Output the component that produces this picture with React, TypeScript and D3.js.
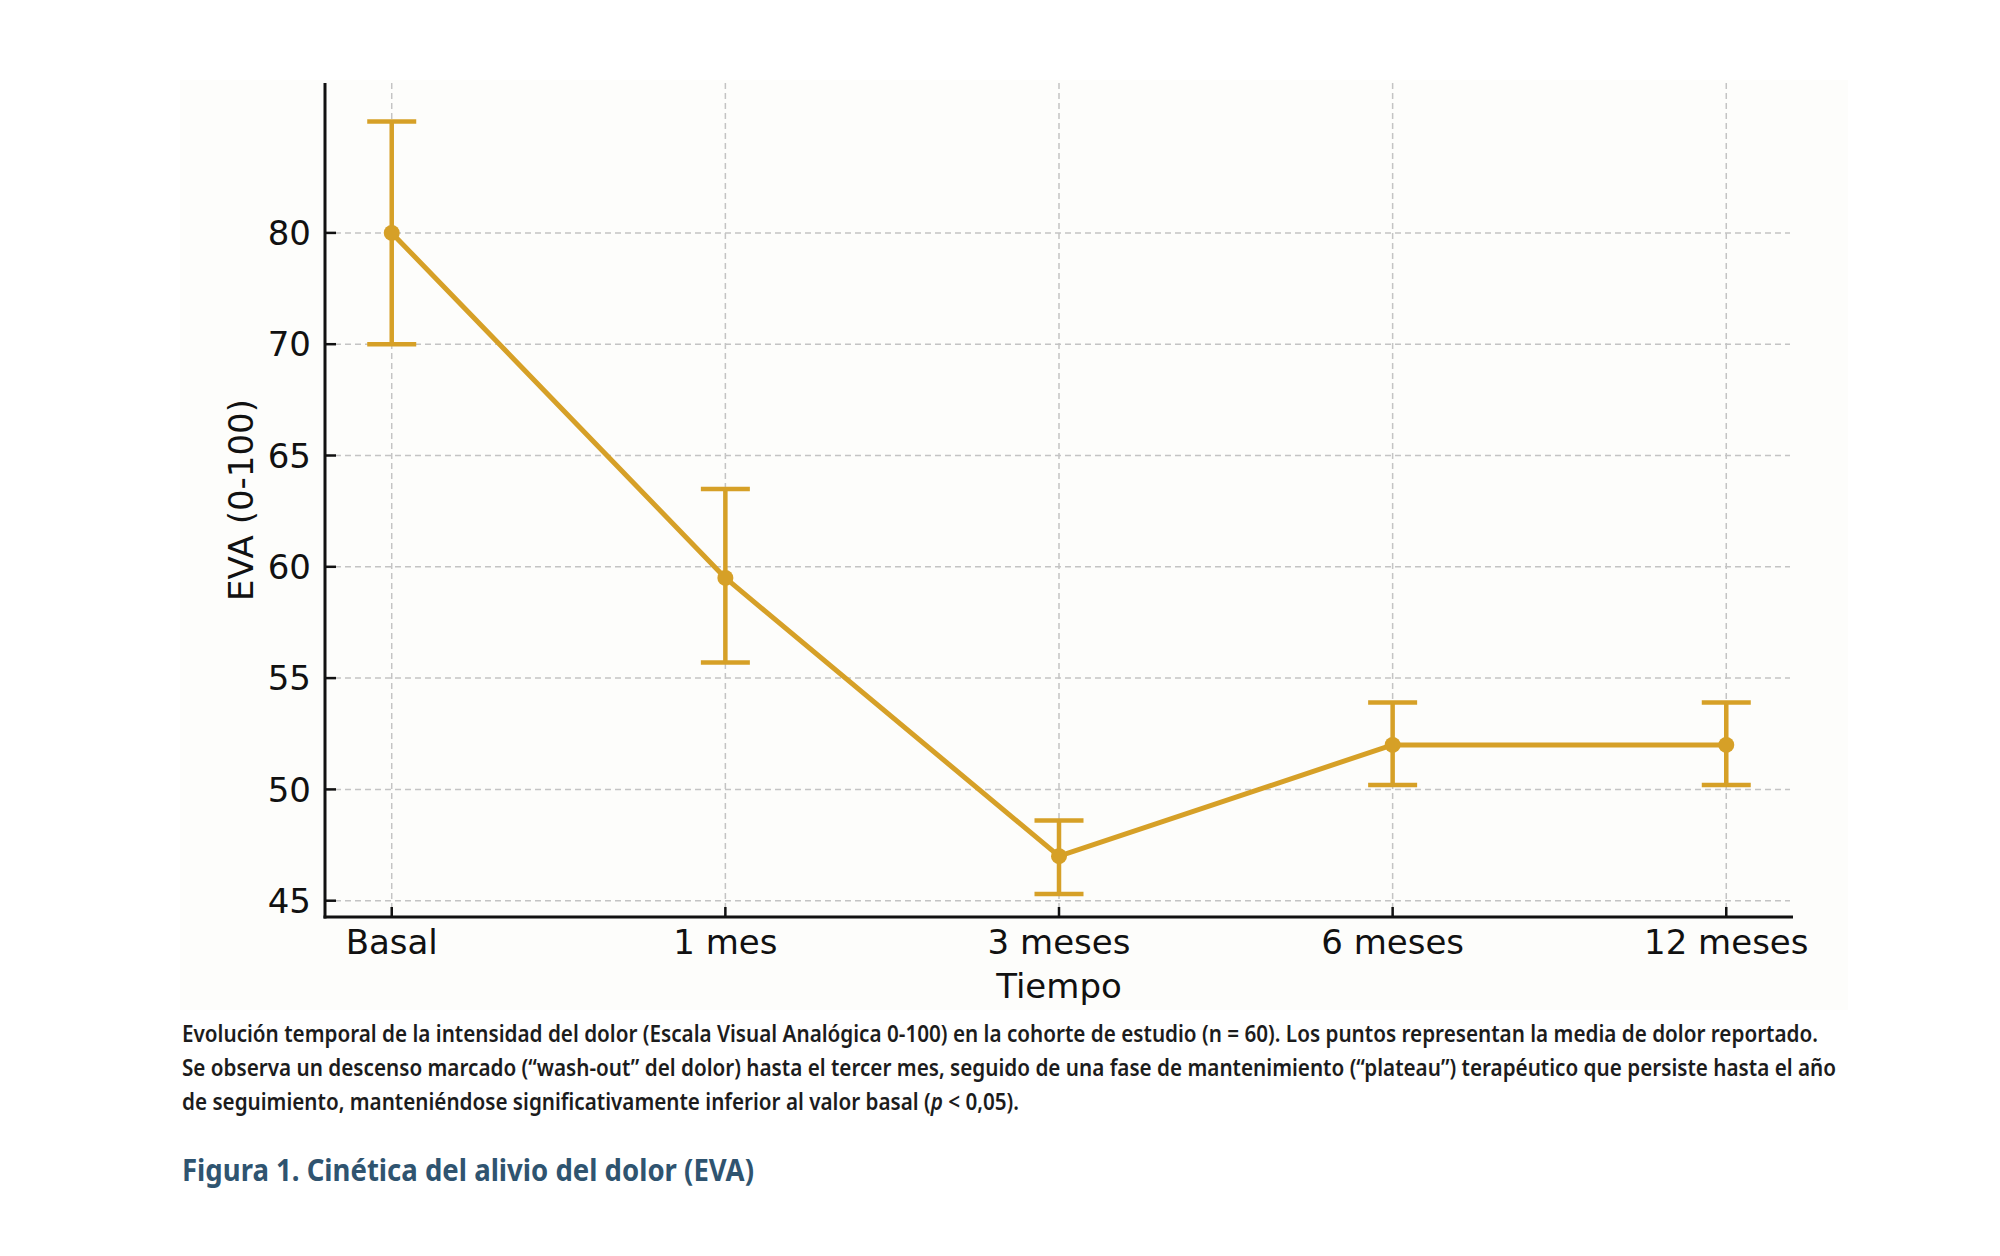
import React from 'react';
import * as d3 from 'd3';

const categories = ['Basal', '1 mes', '3 meses', '6 meses', '12 meses'];
const means = [80, 59.5, 47, 52, 52];
const lower = [70, 55.7, 45.3, 50.2, 50.2];
const upper = [90, 63.5, 48.6, 53.9, 53.9];
const yTicks = [45, 50, 55, 60, 65, 70, 80];

const captionLines = [
  'Evolución temporal de la intensidad del dolor (Escala Visual Analógica 0-100) en la cohorte de estudio (n = 60). Los puntos representan la media de dolor reportado.',
  'Se observa un descenso marcado (“wash-out” del dolor) hasta el tercer mes, seguido de una fase de mantenimiento (“plateau”) terapéutico que persiste hasta el año',
];
const captionLast = ['de seguimiento, manteniéndose significativamente inferior al valor basal (', 'p', ' < 0,05).'];
const title = 'Figura 1. Cinética del alivio del dolor (EVA)';

const W = 2000;
const H = 1256;
const left = 325;
const right = 1793;
const top = 83;
const bottom = 917;
const step = 111.3; // pixels between adjacent y ticks
const y45 = 900.7;

const COLOR = '#d6a027';
const axisFont = "'DejaVu Sans', sans-serif";

const App: React.FC = () => {
  const x = d3.scalePoint<string>().domain(categories).range([left, right]).padding(0.2);
  // the axis places 80 one tick step above 70, so the scale is piecewise
  const y = d3.scaleLinear().domain([45, 70, 80]).range([y45, y45 - 5 * step, y45 - 6 * step]);

  const line = d3.line<number>()
    .x((_, i) => x(categories[i]) as number)
    .y((d) => y(d));

  const cap = 24.5;

  return (
    <svg width={W} height={H} style={{ position: 'absolute', left: 0, top: 0, background: '#fff' }}>
      <rect x={180} y={80} width={1668} height={930} fill="#fdfdfb" />

      {/* grid */}
      <g stroke="#c4c4c4" strokeWidth={1.5} strokeDasharray="6,4">
        {yTicks.map((t) => (
          <line key={'h' + t} x1={left} x2={right - 3} y1={y(t)} y2={y(t)} />
        ))}
        {categories.map((c) => (
          <line key={'v' + c} x1={x(c)} x2={x(c)} y1={top} y2={bottom} />
        ))}
      </g>

      {/* spines */}
      <g stroke="#111" strokeWidth={3} fill="none">
        <line x1={left} x2={left} y1={top} y2={bottom + 1.5} />
        <line x1={left - 1.5} x2={right} y1={bottom} y2={bottom} />
      </g>

      {/* ticks */}
      <g stroke="#111" strokeWidth={2.5}>
        {yTicks.map((t) => (
          <line key={'yt' + t} x1={left} x2={left + 11} y1={y(t)} y2={y(t)} />
        ))}
        {categories.map((c) => (
          <line key={'xt' + c} x1={x(c)} x2={x(c)} y1={bottom} y2={bottom - 10} />
        ))}
      </g>

      <g fontFamily={axisFont} fontSize={34} fill="#111">
        {yTicks.map((t) => (
          <text key={'yl' + t} x={left - 14} y={y(t)} dy="0.36em" textAnchor="end">{t}</text>
        ))}
        {categories.map((c) => (
          <text key={'xl' + c} x={x(c)} y={954} textAnchor="middle">{c}</text>
        ))}
        <text x={(left + right) / 2} y={998} textAnchor="middle">Tiempo</text>
        <text transform={`translate(253,${(top + bottom) / 2}) rotate(-90)`} textAnchor="middle">EVA (0-100)</text>
      </g>

      {/* error bars */}
      <g stroke={COLOR} strokeWidth={4.5}>
        {categories.map((c, i) => {
          const cx = x(c) as number;
          return (
            <g key={'eb' + c}>
              <line x1={cx} x2={cx} y1={y(lower[i])} y2={y(upper[i])} />
              <line x1={cx - cap} x2={cx + cap} y1={y(lower[i])} y2={y(lower[i])} />
              <line x1={cx - cap} x2={cx + cap} y1={y(upper[i])} y2={y(upper[i])} />
            </g>
          );
        })}
      </g>

      <path d={line(means) || ''} fill="none" stroke={COLOR} strokeWidth={5} strokeLinejoin="round" />
      {means.map((m, i) => (
        <circle key={'pt' + i} cx={x(categories[i])} cy={y(m)} r={8} fill={COLOR} />
      ))}

      {/* caption */}
      <g fontFamily="'Noto Sans', sans-serif" fontWeight={600} fontSize={24} fill="#1c1c1c">
        <text x={182} y={1042} textLength={1636} lengthAdjust="spacingAndGlyphs">{captionLines[0]}</text>
        <text x={182} y={1076} textLength={1654} lengthAdjust="spacingAndGlyphs">{captionLines[1]}</text>
        <text x={182} y={1110} textLength={837} lengthAdjust="spacingAndGlyphs">
          {captionLast[0]}
          <tspan fontStyle="italic">{captionLast[1]}</tspan>
          {captionLast[2]}
        </text>
      </g>
      <text x={182} y={1181} fontFamily="'Noto Sans', sans-serif" fontWeight={700} fontSize={31}
        fill="#2f5470" textLength={572} lengthAdjust="spacingAndGlyphs">{title}</text>
    </svg>
  );
};

export default App;
